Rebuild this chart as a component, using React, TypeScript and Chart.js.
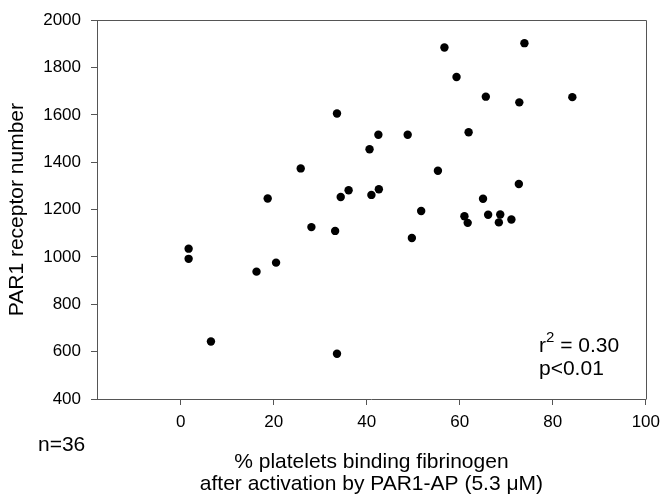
import React, { useEffect, useRef } from "react";
import { Chart, registerables } from "chart.js";

Chart.register(...registerables);

// % platelets binding fibrinogen (x) and PAR1 receptor number (y)
const fibrinogenPct = [
  1.7, 1.7, 6.5, 16.3, 18.7, 20.5, 25.8, 28.1, 33.2, 33.6, 33.6, 34.4,
  36.1, 40.6, 41.0, 42.5, 42.6, 48.8, 49.7, 51.7, 55.3, 56.7, 59.3, 61.0,
  61.7, 61.9, 65.0, 65.6, 66.1, 68.4, 68.7, 71.1, 72.7, 72.8, 73.9, 84.2,
];
const par1Receptors = [
  1035, 992, 643, 938, 1247, 976, 1374, 1126, 1110, 1606, 591, 1253,
  1282, 1455, 1262, 1516, 1286, 1516, 1080, 1194, 1364, 1885, 1760, 1172,
  1144, 1527, 1246, 1677, 1178, 1146, 1179, 1158, 1308, 1653, 1903, 1675,
];

const xTickValues = [0, 20, 40, 60, 80, 100];
const yTickValues = [400, 600, 800, 1000, 1200, 1400, 1600, 1800, 2000];
const xMin = -18;
const xMax = 100;
const yMin = 400;
const yMax = 2000;

const xTitleLines = [
  "% platelets binding fibrinogen",
  "after activation by PAR1-AP (5.3 \u03BCM)",
];
const yTitle = "PAR1 receptor number";
const nLabel = "n=36";
const r2Value = "0.30";
const pLabel = "p<0.01";

const FONT = "'Liberation Sans', Arial, Helvetica, sans-serif";
const AXIS_COLOR = "#555555";

const textPlugin = {
  id: "textPlugin",
  afterDraw(chart: any) {
    const { ctx, chartArea } = chart;
    const { left, right, top, bottom } = chartArea;
    ctx.save();
    // frame: top and right lines
    ctx.strokeStyle = AXIS_COLOR;
    ctx.lineWidth = 1;
    ctx.beginPath();
    ctx.moveTo(Math.round(left) + 0.5, Math.round(top) + 0.5);
    ctx.lineTo(Math.round(right) + 0.5, Math.round(top) + 0.5);
    ctx.lineTo(Math.round(right) + 0.5, Math.round(bottom) + 0.5);
    ctx.stroke();

    ctx.fillStyle = "#000";
    // y title
    ctx.font = `21px ${FONT}`;
    ctx.textAlign = "center";
    ctx.textBaseline = "middle";
    ctx.save();
    ctx.translate(17, (top + bottom) / 2);
    ctx.rotate(-Math.PI / 2);
    ctx.fillText(yTitle, 0, 0);
    ctx.restore();

    // x title
    const cx = (left + right) / 2;
    ctx.fillText(xTitleLines[0], cx, bottom + 63);
    ctx.fillText(xTitleLines[1], cx, bottom + 85);

    // n label
    ctx.textAlign = "left";
    ctx.fillText(nLabel, 38, bottom + 46);

    // r^2 and p
    const ax = 539;
    const ay = bottom - 53;
    ctx.font = `21px ${FONT}`;
    ctx.fillText("r", ax, ay);
    let w = ctx.measureText("r").width;
    ctx.font = `15px ${FONT}`;
    ctx.fillText("2", ax + w, ay - 8);
    w += ctx.measureText("2").width;
    ctx.font = `21px ${FONT}`;
    ctx.fillText(" = " + r2Value, ax + w, ay);
    ctx.fillText(pLabel, ax, ay + 23);
    ctx.restore();
  },
};

export default function App() {
  const canvasRef = useRef<HTMLCanvasElement | null>(null);

  useEffect(() => {
    if (!canvasRef.current) return;
    const points = fibrinogenPct.map((x, i) => ({ x, y: par1Receptors[i] }));
    const chart = new Chart(canvasRef.current, {
      type: "scatter",
      data: {
        datasets: [
          {
            data: points,
            backgroundColor: "#000",
            borderColor: "#000",
            pointRadius: 4.2,
            pointHoverRadius: 4.2,
            borderWidth: 0,
          },
        ],
      },
      options: {
        responsive: false,
        animation: false,
        devicePixelRatio: 1,
        layout: { padding: { top: 14, right: 18, left: 0, bottom: 0 } },
        plugins: {
          legend: { display: false },
          tooltip: { enabled: false },
        },
        scales: {
          x: {
            type: "linear",
            min: xMin,
            max: xMax,
            afterBuildTicks: (scale: any) => {
              scale.ticks = xTickValues.map((v) => ({ value: v }));
            },
            afterFit: (scale: any) => {
              scale.height = 105;
            },
            grid: {
              drawOnChartArea: false,
              drawTicks: true,
              tickLength: 6,
              color: AXIS_COLOR,
            },
            border: { display: true, color: AXIS_COLOR, width: 1 },
            ticks: {
              color: "#000",
              font: { family: FONT, size: 17 },
              padding: 7,
              maxRotation: 0,
              autoSkip: false,
              callback: (v: any) => String(v),
            },
          },
          y: {
            type: "linear",
            min: yMin,
            max: yMax,
            afterBuildTicks: (scale: any) => {
              scale.ticks = yTickValues.map((v) => ({ value: v }));
            },
            afterFit: (scale: any) => {
              scale.width = 97;
            },
            grid: {
              drawOnChartArea: false,
              drawTicks: true,
              tickLength: 6,
              color: AXIS_COLOR,
            },
            border: { display: true, color: AXIS_COLOR, width: 1 },
            ticks: {
              color: "#000",
              font: { family: FONT, size: 17 },
              padding: 10,
              autoSkip: false,
              callback: (v: any) => String(v),
            },
          },
        },
      },
      plugins: [textPlugin],
    });
    return () => chart.destroy();
  }, []);

  return (
    <div
      style={{
        position: "absolute",
        left: 0,
        top: 0,
        width: 667,
        height: 504,
        background: "#fff",
      }}
    >
      <canvas ref={canvasRef} width={667} height={504} style={{ display: "block" }} />
    </div>
  );
}
